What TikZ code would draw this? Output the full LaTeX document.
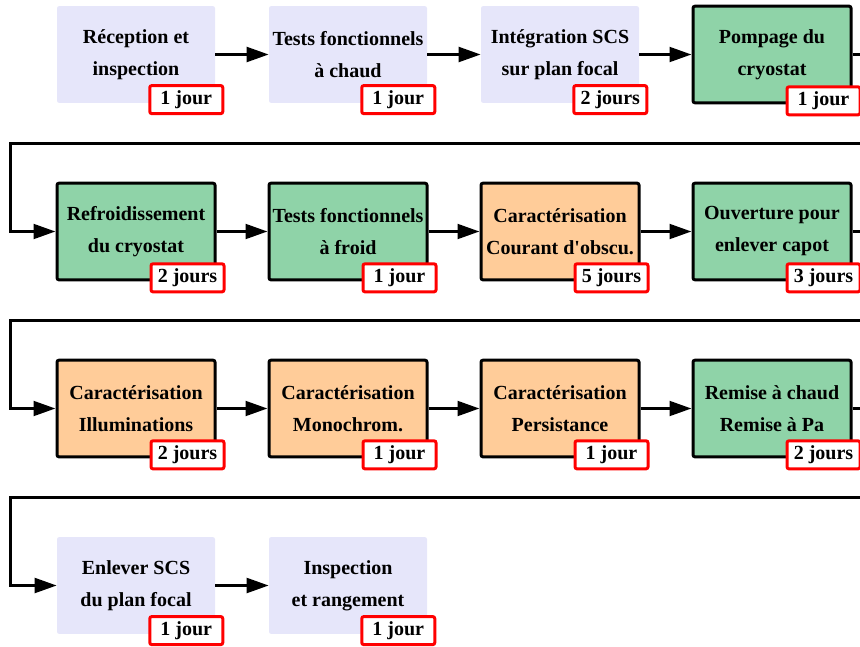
\documentclass[tikz,border=0pt]{standalone}
\usepackage{fontspec}
\setmainfont{Liberation Serif}
\usetikzlibrary{arrows.meta,calc}
\definecolor{prepA}{HTML}{E6E6FA}
\definecolor{cryoB}{HTML}{8FD3A8}
\definecolor{caracC}{HTML}{FFCC99}
\tikzset{
  task/.style = {rectangle, rounded corners=1.5pt, minimum width=118.5pt, minimum height=72.5pt, inner sep=0pt, align=center, font=\bfseries\fontsize{15}{24}\selectfont},
  prep/.style = {task, fill=prepA},
  cryo/.style = {task, draw, line width=2.25pt, fill=cryoB},
  carac/.style = {task, draw, line width=2.25pt, fill=caracC},
  dur/.style = {rectangle, draw=red, fill=white, line width=2.25pt, rounded corners=1.5pt, minimum width=54.75pt, minimum height=21pt, inner sep=0pt, font=\bfseries\fontsize{15}{18}\selectfont},
  flow/.style = {line width=2.25pt, -{Triangle[length=16.5pt,width=11pt]}},
}

\begin{document}
\begin{tikzpicture}[x=0.75pt,y=-0.75pt]
  \useasboundingbox (0,0) rectangle (860,646);
  \clip (0,0) rectangle (860,646);

  % tasks, four per row, with their durations
  \foreach \n/\c/\r/\kind/\txt/\d in {
    1/0/0/prep/{Réception et\\inspection}/1 jour,
    2/1/0/prep/{Tests fonctionnels\\à chaud}/1 jour,
    3/2/0/prep/{Intégration SCS\\sur plan focal}/2 jours,
    4/3/0/cryo/{Pompage du\\cryostat}/1 jour,
    5/0/1/cryo/{Refroidissement\\du cryostat}/2 jours,
    6/1/1/cryo/{Tests fonctionnels\\à froid}/1 jour,
    7/2/1/carac/{Caractérisation\\Courant d\textquotesingle obscu.}/5 jours,
    8/3/1/cryo/{Ouverture pour\\enlever capot}/3 jours,
    9/0/2/carac/{Caractérisation\\Illuminations}/2 jours,
    10/1/2/carac/{Caractérisation\\Monochrom.}/1 jour,
    11/2/2/carac/{Caractérisation\\Persistance}/1 jour,
    12/3/2/cryo/{Remise à chaud\\Remise à Pa}/2 jours,
    13/0/3/prep/{Enlever SCS\\du plan focal}/1 jour,
    14/1/3/prep/{Inspection\\et rangement}/1 jour
  }{
    \node[\kind] (t\n) at ({136+212*\c},{54.5+177*\r}) {\txt};
    \node[dur] (d\n) at ($(t\n.south east)+(-29,-3.5)$) {\d};
  }

  % arrows inside a row
  \foreach \a/\b in {1/2,2/3,3/4,5/6,6/7,7/8,9/10,10/11,11/12,13/14}{
    \draw[flow] (t\a) -- (t\b);
  }

  % returns to the next row
  \coordinate (r1) at (880,143);
  \coordinate (l1) at (10,143);
  \coordinate (r2) at (880,320);
  \coordinate (l2) at (10,320);
  \coordinate (r3) at (880,497);
  \coordinate (l3) at (10,497);
  \draw[flow] (t4.east) -| (r1) -- (l1) |- (t5.west);
  \draw[flow] (t8.east) -| (r2) -- (l2) |- (t9.west);
  \draw[flow] (t12.east) -| (r3) -- (l3) |- (t13.west);
\end{tikzpicture}
\end{document}
